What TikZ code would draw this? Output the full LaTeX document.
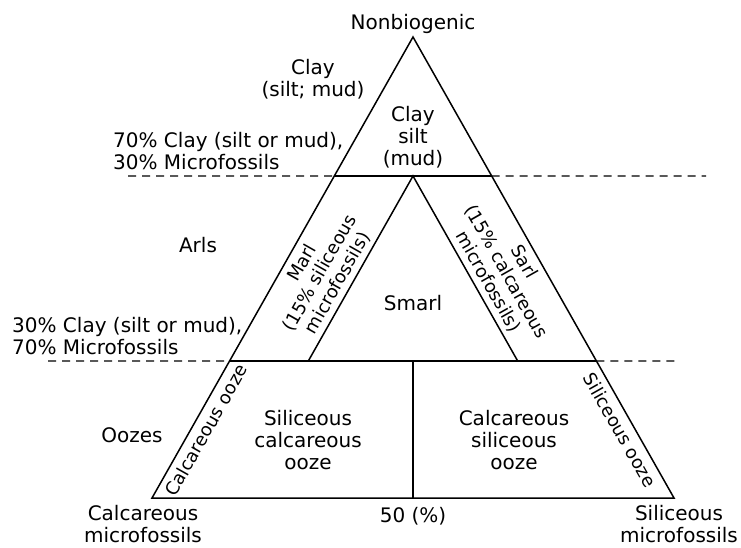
\documentclass[tikz,border=0pt]{standalone}
\usepackage{fontspec}
\setmainfont{DejaVu Sans}
\usetikzlibrary{calc}

\begin{document}
\begin{tikzpicture}[
  x=1pt, y=-1pt,
  lbl/.style={align=center, inner sep=0pt, font=\fontsize{20}{22}\selectfont},
  side/.style={align=center, inner sep=0pt, font=\fontsize{18}{20.5}\selectfont},
  edge/.style={line width=1.5pt, line join=miter},
  guide/.style={line width=1.2pt, dash pattern=on 8pt off 6pt}
]
\useasboundingbox (0,0) rectangle (741,547);
\coordinate (top) at (413,37);
\coordinate (bl) at (152,498);
\coordinate (br) at (674,498);
\coordinate (ul) at ($(top)!0.3015!(bl)$);
\coordinate (ur) at ($(top)!0.3015!(br)$);
\coordinate (ll) at ($(top)!0.7028!(bl)$);
\coordinate (lr) at ($(top)!0.7028!(br)$);
\coordinate (itop) at (413,176);
\coordinate (ibl) at (308.3,361);
\coordinate (ibr) at (517.7,361);
\coordinate (imid) at (413,361);
\coordinate (bmid) at (413,498);
\coordinate (d1) at (128,176);
\coordinate (d2) at (706,176);
\coordinate (d3) at (48,361);
\coordinate (d4) at (677,361);

\draw[edge] (top) -- (bl) -- (br) -- cycle;
\draw[edge] (ul) -- (ur);
\draw[edge] (ll) -- (lr);
\draw[edge] (ibl) -- (itop) -- (ibr);
\draw[edge] (imid) -- (bmid);
\draw[guide] (d1) -- (ul);
\draw[guide] (ur) -- (d2);
\draw[guide] (d3) -- (ll);
\draw[guide] (lr) -- (d4);

\node[lbl, anchor=base] (nonbio) at (413,29) {Nonbiogenic};
\node[lbl] (clay) at (313,79) {Clay\\(silt; mud)};
\node[lbl] (mud) at (413,137) {Clay\\silt\\(mud)};
\node[lbl, align=left, anchor=west] (upper) at (113,151) {70\% Clay (silt or mud),\\30\% Microfossils};
\node[lbl] (arls) at (198,245) {Arls};
\node[lbl, align=left, anchor=west] (lower) at (12,336) {30\% Clay (silt or mud),\\70\% Microfossils};
\node[lbl] (oozes) at (132,435) {Oozes};
\node[lbl] (smarl) at (413,303) {Smarl};
\node[side, rotate=60.5] (marl) at (320,273) {Marl\\(15\% siliceous\\microfossils)};
\node[side, rotate=-60.5] (sarl) at (506,272) {Sarl\\(15\% calcareous\\microfossils)};
\node[side, rotate=60.5] (calcooze) at (206,430) {Calcareous ooze};
\node[side, rotate=-60.5] (silooze) at (620,430) {Siliceous ooze};
\node[lbl] (silcalc) at (308,440) {Siliceous\\calcareous\\ooze};
\node[lbl] (calcsil) at (514,440) {Calcareous\\siliceous\\ooze};
\node[lbl] (calcmf) at (143,524) {Calcareous\\microfossils};
\node[lbl, anchor=base] (half) at (413,522) {50 (\%)};
\node[lbl] (silmf) at (679,524) {Siliceous\\microfossils};
\end{tikzpicture}
\end{document}
